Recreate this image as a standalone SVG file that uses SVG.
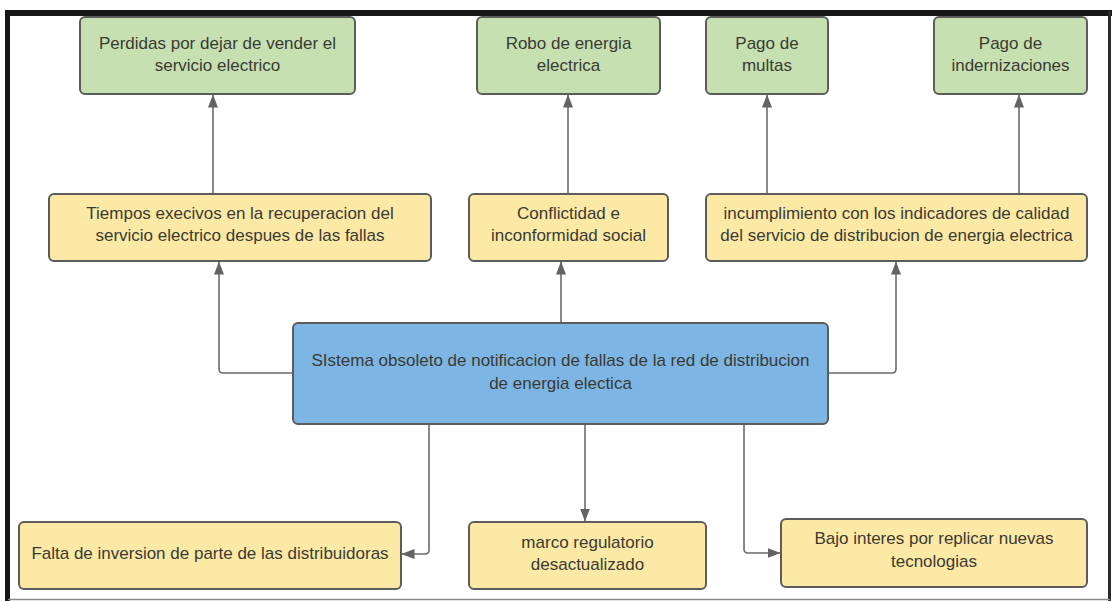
<svg xmlns="http://www.w3.org/2000/svg" width="1114" height="601" viewBox="0 0 1114 601">
<defs>
<marker id="ah" markerUnits="userSpaceOnUse" markerWidth="13" markerHeight="10" viewBox="0 0 13 10" refX="12.5" refY="5" orient="auto">
<path d="M0,0 L13,5 L0,10 Z" fill="#636363"/>
</marker>
</defs>
<style>
.g{fill:#c6e0b2;stroke:#5c5c5c;stroke-width:2}
.y{fill:#fde9a6;stroke:#5c5c5c;stroke-width:2}
.b{fill:#7db6e4;stroke:#5c5c5c;stroke-width:2}
text{font-family:"Liberation Sans",Arial,sans-serif;font-size:17px;fill:#3a3a33;text-anchor:middle}
.c{fill:none;stroke:#6b6b6b;stroke-width:1.6;marker-end:url(#ah)}
</style>
<rect x="0" y="0" width="1114" height="601" fill="#ffffff"/>
<g id="frame">
<line x1="5" y1="13" x2="1112" y2="13" stroke="#161616" stroke-width="6"/>
<line x1="7.5" y1="11" x2="7.5" y2="601" stroke="#161616" stroke-width="5"/>
<line x1="1109.5" y1="11" x2="1109.5" y2="601" stroke="#2a2a2a" stroke-width="3"/>
<line x1="8" y1="599.5" x2="1110" y2="599.5" stroke="#8a8a8a" stroke-width="1.5"/>
</g>
<g id="connectors">
<path class="c" d="M213,194 V95"/>
<path class="c" d="M568,194 V95"/>
<path class="c" d="M767,194 V95"/>
<path class="c" d="M1019,194 V95"/>
<path class="c" d="M293,373 H223 Q219,373 219,369 V262"/>
<path class="c" d="M561,323 V262"/>
<path class="c" d="M828,373 H892 Q896,373 896,369 V262"/>
<path class="c" d="M429,424 V550 Q429,554 425,554 H402"/>
<path class="c" d="M585,424 V521"/>
<path class="c" d="M744,424 V549 Q744,553 748,553 H780"/>
</g>
<g id="n1"><rect class="g" x="80" y="17" width="275" height="77" rx="5"/>
<text x="217.5" y="49">Perdidas por dejar de vender el</text><text x="217.5" y="71">servicio electrico</text></g>
<g id="n2"><rect class="g" x="477" y="17" width="183" height="77" rx="5"/>
<text x="568.5" y="49">Robo de energia</text><text x="568.5" y="71">electrica</text></g>
<g id="n3"><rect class="g" x="706" y="17" width="122" height="77" rx="5"/>
<text x="767" y="49">Pago de</text><text x="767" y="71">multas</text></g>
<g id="n4"><rect class="g" x="934" y="17" width="153" height="77" rx="5"/>
<text x="1010.5" y="49">Pago de</text><text x="1010.5" y="71">indernizaciones</text></g>
<g id="n5"><rect class="y" x="49" y="194" width="382" height="67" rx="5"/>
<text x="240" y="219">Tiempos execivos en la recuperacion del</text><text x="240" y="241">servicio electrico despues de las fallas</text></g>
<g id="n6"><rect class="y" x="469" y="194" width="199" height="67" rx="5"/>
<text x="568.5" y="219">Conflictidad e</text><text x="568.5" y="241">inconformidad social</text></g>
<g id="n7"><rect class="y" x="706" y="194" width="381" height="67" rx="5"/>
<text x="896.5" y="219">incumplimiento con los indicadores de calidad</text><text x="896.5" y="241">del servicio de distribucion de energia electrica</text></g>
<g id="n8"><rect class="b" x="293" y="323" width="535" height="101" rx="5"/>
<text x="560.5" y="366">SIstema obsoleto de notificacion de fallas de la red de distribucion</text><text x="560.5" y="389">de energia electica</text></g>
<g id="n9"><rect class="y" x="19" y="522" width="382" height="67" rx="5"/>
<text x="210" y="559">Falta de inversion de parte de las distribuidoras</text></g>
<g id="n10"><rect class="y" x="469" y="522" width="237" height="67" rx="5"/>
<text x="587.5" y="548">marco regulatorio</text><text x="587.5" y="570">desactualizado</text></g>
<g id="n11"><rect class="y" x="781" y="519" width="306" height="68" rx="5"/>
<text x="934" y="544">Bajo interes por replicar nuevas</text><text x="934" y="567">tecnologias</text></g>
</svg>
